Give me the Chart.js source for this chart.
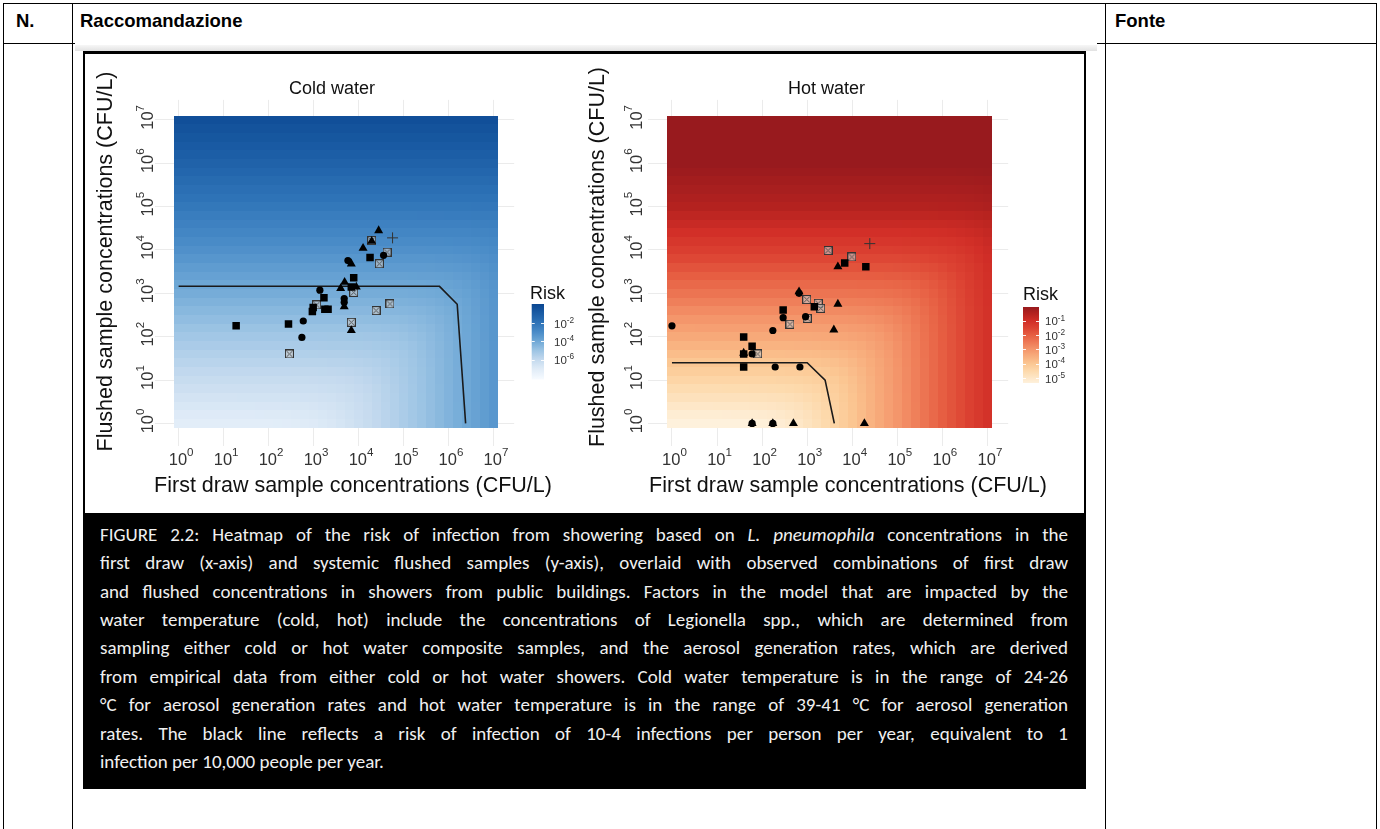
<!DOCTYPE html>
<html>
<head>
<meta charset="utf-8">
<script src="https://cdn.jsdelivr.net/npm/chart.js@4.4.1/dist/chart.umd.min.js"></script>
<style>
html,body{margin:0;padding:0;background:#fff;width:1380px;height:829px;overflow:hidden;position:relative;font-family:"Liberation Sans",Arial,sans-serif;}
.ln{position:absolute;background:#000;}
.hd{position:absolute;top:10px;font-weight:bold;font-size:18.5px;color:#000;line-height:22px;white-space:nowrap;}
#figbg{position:absolute;left:75px;top:44px;width:1022px;height:785px;background:#fff;}
#band{position:absolute;left:75px;top:45px;width:1022px;height:6px;background:linear-gradient(#f7f7f7,#e2e2e2);}
#frame{position:absolute;left:83px;top:51px;width:999px;height:733px;border:2px solid #000;border-top-width:3px;background:#fff;}
#capbg{position:absolute;left:84px;top:513px;width:1001px;height:274px;background:#000;}
#cap{position:absolute;left:100px;top:520.8px;width:968px;color:#f0f0f0;font-family:Carlito,Lato,"Open Sans",sans-serif;font-size:17.5px;}
#cap div{height:28.4px;line-height:28.4px;white-space:nowrap;text-align:justify;text-align-last:justify;}
#cap div.last{text-align:left;text-align-last:left;}
canvas{position:absolute;}
</style>
</head>
<body>
<div class="ln" style="left:3px;top:3px;width:1374px;height:1px"></div>
<div class="ln" style="left:3px;top:43px;width:72px;height:1px"></div>
<div class="ln" style="left:1097px;top:43px;width:280px;height:1px"></div>
<div class="ln" style="left:3px;top:3px;width:1px;height:826px"></div>
<div class="ln" style="left:72px;top:3px;width:1px;height:826px"></div>
<div class="ln" style="left:1105px;top:3px;width:1px;height:826px"></div>
<div class="ln" style="left:1376px;top:3px;width:1px;height:826px"></div>
<div class="hd" style="left:16px">N.</div>
<div class="hd" style="left:80px">Raccomandazione</div>
<div class="hd" style="left:1115px">Fonte</div>

<div id="figbg"></div>
<div id="band"></div>
<div id="frame"></div>
<div id="capbg"></div>
<div id="cap">
<div>FIGURE 2.2: Heatmap of the risk of infection from showering based on <i>L. pneumophila</i> concentrations in the</div>
<div>first draw (x-axis) and systemic flushed samples (y-axis), overlaid with observed combinations of first draw</div>
<div>and flushed concentrations in showers from public buildings. Factors in the model that are impacted by the</div>
<div>water temperature (cold, hot) include the concentrations of Legionella spp., which are determined from</div>
<div>sampling either cold or hot water composite samples, and the aerosol generation rates, which are derived</div>
<div>from empirical data from either cold or hot water showers. Cold water temperature is in the range of 24-26</div>
<div>°C for aerosol generation rates and hot water temperature is in the range of 39-41 °C for aerosol generation</div>
<div>rates. The black line reflects a risk of infection of 10-4 infections per person per year, equivalent to 1</div>
<div class="last">infection per 10,000 people per year.</div>
</div>

<canvas id="cold" width="500" height="454" style="left:84px;top:56px;width:500px;height:454px"></canvas>
<canvas id="hot" width="514" height="454" style="left:570px;top:56px;width:514px;height:454px"></canvas>

<script>
// ---------------- DATA ----------------
const tickExponents = [0,1,2,3,4,5,6,7];          // axis ticks at 10^e
const tickBase = '10';
const tickExpLabels = ['0','1','2','3','4','5','6','7'];
const xTitle = 'First draw sample concentrations (CFU/L)';
const yTitle = 'Flushed sample concentrations (CFU/L)';

// Cold water observations [first draw, flushed] (CFU/L)
const coldTriangles = [[28000,28000],[19600,16000],[12600,11000],[6900,4800],[4900,1800],[4000,1300],[8900,1400],[4800,490],[6900,139]];
const coldSquares = [[18000,6700],[7800,2300],[6900,1400],[1700,790],[980,470],[940,380],[1780,430],[2100,430],[19,178],[277,196]];
const coldCircles = [[5800,5700],[36000,7500],[1380,1180],[4800,760],[4800,620],[590,230],[550,96]];
const coldSquareCross = [[19600,16500],[43000,8900],[29000,4800],[7800,1050],[1170,540],[24500,400],[50000,570],[6900,215],[290,40]];
const coldPlus = [[57000,19000]];
const coldLine = [[1,1450],[630000,1450],[1560000,560],[2400000,1]];

// Hot water observations
const hotTriangles = [[4800,4100],[660,1090],[4800,565],[3900,144],[60,1],[173,1],[495,1],[18600,1],[39,42]];
const hotSquares = [[6800,5000],[20000,4100],[1440,490],[293,410],[39,98],[60,60],[39,40],[39,20]];
const hotCircles = [[660,1000],[293,275],[920,290],[1,178],[173,139],[60,40],[195,20],[690,20],[60,1],[173,1]];
const hotSquareCross = [[2900,9700],[9800,6900],[980,720],[1750,590],[2000,450],[1000,265],[415,194],[80,40]];
const hotPlus = [[24500,14000]];
const hotLine = [[1,25],[1000,25],[2500,10],[4000,1]];

// Heatmap risk read along the edges, per decade 10^0..10^7
const coldRiskFlushed = [7e-8,7e-7,7e-6,7e-5,7e-4,7e-3,0.065,0.5];
const coldRiskFirst   = [4e-11,4e-10,4e-9,4e-8,4e-7,4e-6,4e-5,4e-4];
const hotRiskFlushed  = [4e-6,4e-5,4e-4,4e-3,0.04,0.33,0.98,1];
const hotRiskFirst    = [1e-8,1e-7,1e-6,1e-5,1e-4,1e-3,1e-2,0.08];

// Legend
const coldLegendExp = [-2,-4,-6];
const coldLegendExpLabels = ['-2','-4','-6'];
const hotLegendExp = [-1,-2,-3,-4,-5];
const hotLegendExpLabels = ['-1','-2','-3','-4','-5'];

// Colour scales (log10 risk -> colour)
const coldStops = [[-8.2,'#f7fbff'],[-7,'#dfebf7'],[-6,'#c3d9ee'],[-5,'#9cc4e4'],[-4,'#6fa8d6'],[-3,'#4a8cc8'],[-2,'#2f74b8'],[-1,'#1c5ea6'],[0.11,'#0a4691']];
const hotStops = [[-5.35,'#fef1dc'],[-4.5,'#fdd9ab'],[-4,'#fbc793'],[-3.5,'#f8ae7d'],[-3,'#f4966b'],[-2.5,'#ee7a56'],[-2,'#e65e42'],[-1.5,'#dc4232'],[-1,'#d12e27'],[-0.5,'#b5221f'],[-0.02,'#981a1e']];

// ---------------- HELPERS ----------------
const FONT = '"Liberation Sans", Arial, Helvetica, sans-serif';
const LOG_LO = -0.46, LOG_HI = 7.46;

function hex2rgb(h){return [parseInt(h.substr(1,2),16),parseInt(h.substr(3,2),16),parseInt(h.substr(5,2),16)];}
function colorAt(stops, v){
  if (v <= stops[0][0]) return stops[0][1];
  if (v >= stops[stops.length-1][0]) return stops[stops.length-1][1];
  for (let i=0;i<stops.length-1;i++){
    const a=stops[i], b=stops[i+1];
    if (v>=a[0] && v<=b[0]){
      const t=(v-a[0])/(b[0]-a[0]); const ca=hex2rgb(a[1]), cb=hex2rgb(b[1]);
      return 'rgb('+ca.map((c,k)=>Math.round(c+(cb[k]-c)*t)).join(',')+')';
    }
  }
  return stops[0][1];
}
function edgeRisk(arr, l){
  if (l<=0) return arr[0];
  if (l>=arr.length-1) return arr[arr.length-1];
  const i=Math.floor(l), f=l-i;
  return Math.pow(10, Math.log10(arr[i])*(1-f)+Math.log10(arr[i+1])*f);
}
function pts(a){return a.map(p=>({x:p[0],y:p[1]}));}

function makeSquareCross(){
  const c=document.createElement('canvas'); c.width=9; c.height=9;
  const g=c.getContext('2d');
  g.fillStyle='rgba(200,200,200,0.6)'; g.fillRect(0,0,9,9);
  g.strokeStyle='#333'; g.lineWidth=1; g.strokeRect(0.5,0.5,8,8);
  g.strokeStyle='#555'; g.beginPath(); g.moveTo(1.5,1.5); g.lineTo(7.5,7.5); g.moveTo(7.5,1.5); g.lineTo(1.5,7.5); g.stroke();
  return c;
}
const sqx = makeSquareCross();

function drawPow(ctx, base, exp, cx, baseSize, expSize, raise){
  ctx.font = baseSize+'px '+FONT; const w1 = ctx.measureText(base).width;
  ctx.font = expSize+'px '+FONT; const w2 = ctx.measureText(exp).width;
  const x0 = cx - (w1+w2)/2;
  ctx.font = baseSize+'px '+FONT; ctx.fillText(base, x0, 0);
  ctx.font = expSize+'px '+FONT; ctx.fillText(exp, x0+w1, -raise);
}

const heatPlugin = {
  id:'heat',
  beforeDatasetsDraw(chart, args, o){
    const ctx=chart.ctx, xs=chart.scales.x, ys=chart.scales.y;
    const step=0.2, n=36;
    ctx.save();
    for (let i=0;i<n;i++){
      const cx=i*step;
      const x0=Math.round(xs.getPixelForValue(Math.pow(10,cx-step/2)));
      const x1=Math.round(xs.getPixelForValue(Math.pow(10,cx+step/2)));
      for (let j=0;j<n;j++){
        const cy=j*step;
        const y0=Math.round(ys.getPixelForValue(Math.pow(10,cy+step/2)));
        const y1=Math.round(ys.getPixelForValue(Math.pow(10,cy-step/2)));
        const r=Math.min(1, edgeRisk(o.flushed,cy)+edgeRisk(o.first,cx));
        ctx.fillStyle=colorAt(o.stops, Math.log10(r));
        ctx.fillRect(x0,y0,x1-x0,y1-y0);
      }
    }
    ctx.restore();
  },
  afterDraw(chart, args, o){
    const ctx=chart.ctx, xs=chart.scales.x, ys=chart.scales.y;
    ctx.save();
    ctx.fillStyle='#333'; ctx.textAlign='left'; ctx.textBaseline='alphabetic';
    xs.ticks.forEach((t,i)=>{
      const px=xs.getPixelForValue(t.value);
      ctx.save(); ctx.translate(0, o.xLabelBase);
      drawPow(ctx, tickBase, tickExpLabels[i], px+2.5, 16.5, 11.6, 9.5);
      ctx.restore();
    });
    ys.ticks.forEach((t,i)=>{
      const py=ys.getPixelForValue(t.value);
      ctx.save(); ctx.translate(o.yLabelBase, py); ctx.rotate(-Math.PI/2);
      drawPow(ctx, tickBase, tickExpLabels[i], 2.5, 16.5, 11.6, 9.5);
      ctx.restore();
    });
    ctx.fillStyle='#111'; ctx.textAlign='center'; ctx.textBaseline='middle';
    ctx.font='18px '+FONT; ctx.fillText(o.title, o.titleX, o.titleY);
    ctx.font='21.5px '+FONT; ctx.fillText(xTitle, o.xtX, o.xtY);
    ctx.save(); ctx.translate(o.ytX, o.ytY); ctx.rotate(-Math.PI/2); ctx.fillText(yTitle,0,0); ctx.restore();
    const L=o.legend;
    ctx.textAlign='left'; ctx.font='18px '+FONT; ctx.fillStyle='#111';
    ctx.fillText('Risk', L.x, L.titleY);
    const g=ctx.createLinearGradient(0,L.top,0,L.bottom);
    for (let k=0;k<=50;k++){const t=k/50; g.addColorStop(t, colorAt(o.stops, L.hi+(L.lo-L.hi)*t));}
    ctx.fillStyle=g; ctx.fillRect(L.x0, L.top, L.w, L.bottom-L.top);
    ctx.strokeStyle='rgba(255,255,255,0.9)'; ctx.lineWidth=1;
    ctx.fillStyle='#333'; ctx.textBaseline='alphabetic';
    L.exps.forEach((e,k)=>{
      const y=L.top+(L.hi-e)/(L.hi-L.lo)*(L.bottom-L.top);
      const yy=Math.round(y)+0.5;
      ctx.beginPath(); ctx.moveTo(L.x0,yy); ctx.lineTo(L.x0+3,yy); ctx.moveTo(L.x0+L.w-3,yy); ctx.lineTo(L.x0+L.w,yy); ctx.stroke();
      ctx.save(); ctx.translate(0, y+4.5);
      ctx.font=L.fs+'px '+FONT; const w1=ctx.measureText('10').width;
      ctx.fillText('10', L.lx, 0);
      ctx.font=(L.fs*0.72)+'px '+FONT; ctx.fillText(L.labels[k], L.lx+w1, -L.fs*0.42);
      ctx.restore();
    });
    ctx.restore();
  }
};

function makeChart(id, cfg){
  const sets=[
    {data:pts(cfg.circles), pointStyle:'circle', pointRadius:3.6, backgroundColor:'#000', borderColor:'#000', borderWidth:0},
    {data:pts(cfg.triangles), pointStyle:'triangle', pointRadius:5.2, backgroundColor:'#000', borderColor:'#000', borderWidth:0},
    {data:pts(cfg.squares), pointStyle:'rect', pointRadius:5.3, backgroundColor:'#000', borderColor:'#000', borderWidth:0},
    {data:pts(cfg.sqx), pointStyle:sqx, pointRadius:4.5},
    {data:pts(cfg.plus), pointStyle:'cross', pointRadius:5.5, borderColor:'#333', borderWidth:1, backgroundColor:'#333'},
    {data:pts(cfg.line), showLine:true, pointRadius:0, borderColor:'#1a1a1a', borderWidth:1.6, fill:false, tension:0}
  ];
  return new Chart(document.getElementById(id), {
    type:'scatter',
    data:{datasets:sets},
    options:{
      responsive:false, animation:false, devicePixelRatio:1, events:[],
      layout:{padding:{left:0, top:cfg.padTop, right:cfg.padRight, bottom:0}},
      plugins:{legend:{display:false}, tooltip:{enabled:false}, heat:cfg.heat},
      scales:{
        x:{type:'logarithmic', min:Math.pow(10,LOG_LO), max:Math.pow(10,LOG_HI),
          afterBuildTicks:s=>{s.ticks=tickExponents.map(e=>({value:Math.pow(10,e)}));},
          afterFit:s=>{s.height=cfg.xHeight;},
          ticks:{display:false, autoSkip:false},
          grid:{color:'#ebebeb', lineWidth:1, drawTicks:false}, border:{display:false}},
        y:{type:'logarithmic', min:Math.pow(10,LOG_LO), max:Math.pow(10,LOG_HI),
          afterBuildTicks:s=>{s.ticks=tickExponents.map(e=>({value:Math.pow(10,e)}));},
          afterFit:s=>{s.width=cfg.yWidth;},
          ticks:{display:false, autoSkip:false},
          grid:{color:'#ebebeb', lineWidth:1, drawTicks:false}, border:{display:false}}
      }
    },
    plugins:[heatPlugin]
  });
}

makeChart('cold', {
  circles:coldCircles, triangles:coldTriangles, squares:coldSquares, sqx:coldSquareCross, plus:coldPlus, line:coldLine,
  padTop:43.9, padRight:69.8, xHeight:63.9, yWidth:71.1,
  heat:{flushed:coldRiskFlushed, first:coldRiskFirst, stops:coldStops, xLabelBase:409, yLabelBase:69.3,
    title:'Cold water', titleX:248, titleY:33, xtX:269, xtY:430, ytX:22, ytY:205.5,
    legend:{x:446, titleY:238, x0:447.7, w:12.3, top:248, bottom:323.5, hi:0.11, lo:-8.2, lx:470, fs:11.5, exps:coldLegendExp, labels:coldLegendExpLabels}}
});
makeChart('hot', {
  circles:hotCircles, triangles:hotTriangles, squares:hotSquares, sqx:hotSquareCross, plus:hotPlus, line:hotLine,
  padTop:43.9, padRight:75.8, xHeight:63.9, yWidth:78.4,
  heat:{flushed:hotRiskFlushed, first:hotRiskFirst, stops:hotStops, xLabelBase:409, yLabelBase:71.7,
    title:'Hot water', titleX:256.6, titleY:33, xtX:278, xtY:430, ytX:28.5, ytY:201,
    legend:{x:453, titleY:239, x0:453, w:16, top:251, bottom:327, hi:-0.02, lo:-5.35, lx:475, fs:11.5, exps:hotLegendExp, labels:hotLegendExpLabels}}
});

(function(){
  const cap=document.getElementById('cap');
  const divs=[...cap.children];
  let max=0;
  divs.forEach(d=>{const s=document.createElement('span'); s.innerHTML=d.innerHTML; s.style.whiteSpace='nowrap'; s.style.position='absolute'; s.style.visibility='hidden'; cap.appendChild(s); max=Math.max(max,s.getBoundingClientRect().width); s.remove();});
  const fs=Math.min(19, 17.5*960/max);
  cap.style.fontSize=fs.toFixed(2)+'px';
})();
</script>
</body>
</html>
